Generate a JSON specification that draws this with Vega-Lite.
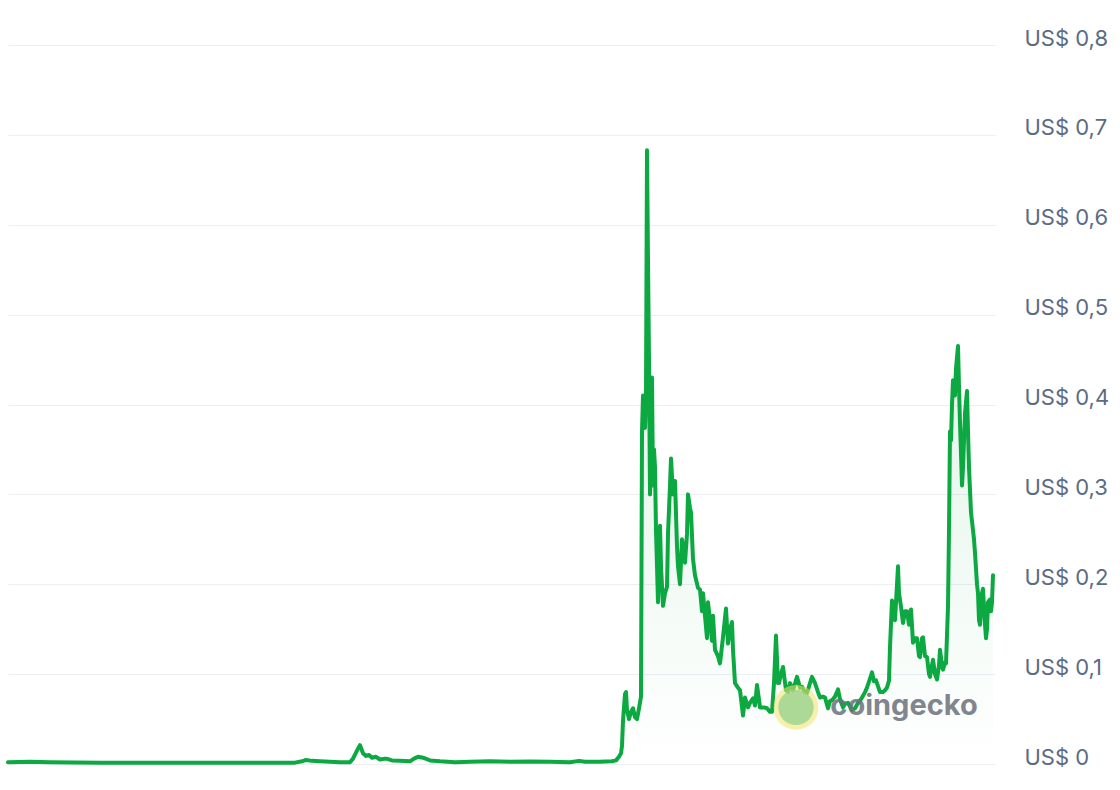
{
  "$schema": "https://vega.github.io/schema/vega-lite/v6.json",
  "width": 987,
  "height": 719,
  "autosize": {"type": "none"},
  "padding": {"left": 8, "top": 45, "right": 125, "bottom": 26},
  "background": "#ffffff",
  "config": {"view": {"stroke": null}},
  "datasets": {
    "price": [
      {"t":8,"p":0.002},{"t":30,"p":0.0025},{"t":50,"p":0.002},{"t":100,"p":0.0015},{"t":150,"p":0.0015},{"t":200,"p":0.0015},{"t":250,"p":0.0015},{"t":295,"p":0.0015},{"t":302,"p":0.003},{"t":306,"p":0.0045},{"t":312,"p":0.0035},{"t":320,"p":0.003},{"t":330,"p":0.0025},{"t":340,"p":0.002},{"t":350,"p":0.002},{"t":353,"p":0.006},{"t":357,"p":0.015},{"t":360,"p":0.021},{"t":363,"p":0.012},{"t":366,"p":0.009},{"t":369,"p":0.01},{"t":372,"p":0.007},{"t":376,"p":0.008},{"t":380,"p":0.005},{"t":385,"p":0.006},{"t":388,"p":0.0055},{"t":392,"p":0.004},{"t":400,"p":0.0035},{"t":410,"p":0.003},{"t":414,"p":0.006},{"t":418,"p":0.008},{"t":423,"p":0.007},{"t":430,"p":0.004},{"t":440,"p":0.003},{"t":455,"p":0.002},{"t":470,"p":0.0025},{"t":490,"p":0.003},{"t":510,"p":0.0025},{"t":530,"p":0.0028},{"t":550,"p":0.0025},{"t":570,"p":0.002},{"t":579,"p":0.0035},{"t":585,"p":0.0025},{"t":600,"p":0.0025},{"t":612,"p":0.003},{"t":616,"p":0.004},{"t":619,"p":0.008},{"t":621,"p":0.012},{"t":622,"p":0.02},{"t":623,"p":0.048},{"t":625,"p":0.078},{"t":626,"p":0.08},{"t":627,"p":0.06},{"t":629,"p":0.05},{"t":631,"p":0.058},{"t":633,"p":0.062},{"t":635,"p":0.052},{"t":637,"p":0.05},{"t":639,"p":0.062},{"t":641,"p":0.075},{"t":642,"p":0.37},{"t":643,"p":0.41},{"t":644,"p":0.38},{"t":645,"p":0.374},{"t":646,"p":0.41},{"t":647,"p":0.683},{"t":648,"p":0.56},{"t":649,"p":0.45},{"t":650,"p":0.30},{"t":651,"p":0.36},{"t":652,"p":0.43},{"t":653,"p":0.31},{"t":654,"p":0.35},{"t":655,"p":0.33},{"t":656,"p":0.26},{"t":658,"p":0.18},{"t":660,"p":0.265},{"t":661,"p":0.22},{"t":663,"p":0.176},{"t":665,"p":0.19},{"t":667,"p":0.197},{"t":668,"p":0.256},{"t":670,"p":0.31},{"t":671,"p":0.34},{"t":673,"p":0.30},{"t":675,"p":0.315},{"t":677,"p":0.242},{"t":678,"p":0.22},{"t":680,"p":0.2},{"t":682,"p":0.25},{"t":684,"p":0.235},{"t":685,"p":0.224},{"t":687,"p":0.256},{"t":688,"p":0.30},{"t":690,"p":0.285},{"t":691,"p":0.28},{"t":693,"p":0.228},{"t":695,"p":0.21},{"t":698,"p":0.196},{"t":700,"p":0.194},{"t":702,"p":0.17},{"t":703,"p":0.19},{"t":705,"p":0.165},{"t":707,"p":0.14},{"t":708,"p":0.18},{"t":710,"p":0.16},{"t":712,"p":0.137},{"t":713,"p":0.165},{"t":715,"p":0.127},{"t":718,"p":0.12},{"t":720,"p":0.112},{"t":723,"p":0.141},{"t":726,"p":0.173},{"t":728,"p":0.134},{"t":730,"p":0.15},{"t":732,"p":0.158},{"t":733,"p":0.127},{"t":735,"p":0.09},{"t":738,"p":0.085},{"t":740,"p":0.082},{"t":743,"p":0.054},{"t":745,"p":0.074},{"t":748,"p":0.063},{"t":750,"p":0.068},{"t":753,"p":0.073},{"t":755,"p":0.065},{"t":757,"p":0.088},{"t":760,"p":0.063},{"t":764,"p":0.063},{"t":767,"p":0.062},{"t":770,"p":0.058},{"t":772,"p":0.058},{"t":774,"p":0.09},{"t":776,"p":0.143},{"t":778,"p":0.09},{"t":779,"p":0.09},{"t":781,"p":0.1},{"t":783,"p":0.108},{"t":786,"p":0.082},{"t":788,"p":0.08},{"t":790,"p":0.09},{"t":793,"p":0.082},{"t":797,"p":0.097},{"t":800,"p":0.085},{"t":802,"p":0.086},{"t":805,"p":0.08},{"t":807,"p":0.079},{"t":810,"p":0.09},{"t":812,"p":0.097},{"t":815,"p":0.09},{"t":818,"p":0.08},{"t":820,"p":0.074},{"t":823,"p":0.075},{"t":825,"p":0.074},{"t":828,"p":0.062},{"t":830,"p":0.07},{"t":832,"p":0.071},{"t":835,"p":0.075},{"t":838,"p":0.083},{"t":840,"p":0.072},{"t":843,"p":0.063},{"t":845,"p":0.067},{"t":848,"p":0.068},{"t":852,"p":0.06},{"t":855,"p":0.062},{"t":858,"p":0.068},{"t":861,"p":0.072},{"t":863,"p":0.076},{"t":865,"p":0.08},{"t":867,"p":0.085},{"t":870,"p":0.095},{"t":872,"p":0.102},{"t":874,"p":0.092},{"t":876,"p":0.093},{"t":880,"p":0.08},{"t":883,"p":0.08},{"t":885,"p":0.082},{"t":887,"p":0.085},{"t":889,"p":0.093},{"t":890,"p":0.13},{"t":892,"p":0.182},{"t":894,"p":0.163},{"t":895,"p":0.16},{"t":897,"p":0.2},{"t":898,"p":0.22},{"t":899,"p":0.19},{"t":901,"p":0.175},{"t":903,"p":0.157},{"t":905,"p":0.17},{"t":907,"p":0.17},{"t":909,"p":0.155},{"t":911,"p":0.172},{"t":913,"p":0.135},{"t":915,"p":0.14},{"t":917,"p":0.14},{"t":919,"p":0.12},{"t":920,"p":0.119},{"t":922,"p":0.14},{"t":923,"p":0.141},{"t":925,"p":0.12},{"t":927,"p":0.119},{"t":929,"p":0.1},{"t":930,"p":0.097},{"t":932,"p":0.11},{"t":933,"p":0.116},{"t":935,"p":0.1},{"t":937,"p":0.094},{"t":939,"p":0.11},{"t":940,"p":0.127},{"t":942,"p":0.11},{"t":943,"p":0.105},{"t":945,"p":0.113},{"t":946,"p":0.112},{"t":948,"p":0.175},{"t":949,"p":0.26},{"t":950,"p":0.37},{"t":951,"p":0.36},{"t":952,"p":0.40},{"t":953,"p":0.427},{"t":955,"p":0.41},{"t":956,"p":0.44},{"t":958,"p":0.465},{"t":959,"p":0.42},{"t":960,"p":0.38},{"t":962,"p":0.31},{"t":963,"p":0.33},{"t":965,"p":0.39},{"t":967,"p":0.415},{"t":968,"p":0.37},{"t":969,"p":0.33},{"t":971,"p":0.28},{"t":972,"p":0.27},{"t":974,"p":0.25},{"t":975,"p":0.235},{"t":977,"p":0.2},{"t":978,"p":0.19},{"t":979,"p":0.16},{"t":980,"p":0.155},{"t":982,"p":0.19},{"t":983,"p":0.195},{"t":985,"p":0.155},{"t":986,"p":0.14},{"t":987,"p":0.15},{"t":988,"p":0.18},{"t":990,"p":0.183},{"t":991,"p":0.17},{"t":992,"p":0.18},{"t":993,"p":0.21}
    ],
    "mark": [
      {"t": 796, "p": 0.063, "label": "coingecko", "tx": 904, "tp": 0.064}
    ]
  },
  "layer": [
    {
      "data": {"name": "price"},
      "mark": {
        "type": "area",
        "color": {
          "gradient": "linear", "x1": 0, "y1": 0, "x2": 0, "y2": 1,
          "stops": [
            {"offset": 0, "color": "rgba(12,168,66,0.16)"},
            {"offset": 0.6, "color": "rgba(12,168,66,0.07)"},
            {"offset": 1, "color": "rgba(12,168,66,0.0)"}
          ]
        }
      },
      "encoding": {
        "x": {"field": "t", "type": "quantitative", "scale": {"domain": [8, 995], "nice": false, "zero": false}, "axis": null},
        "y": {
          "field": "p", "type": "quantitative",
          "scale": {"domain": [0, 0.8], "nice": false},
          "axis": {
            "orient": "right",
            "values": [0, 0.1, 0.2, 0.3, 0.4, 0.5, 0.6, 0.7, 0.8],
            "grid": true, "gridColor": "#eceef2", "gridWidth": 1,
            "domain": false, "ticks": false,
            "labelPadding": 29, "labelFontSize": 22, "labelFont": "Inter",
            "labelColor": "#5b6b84", "labelAlign": "left", "labelBaseline": "alphabetic", "labelOffset": 0,
            "labelExpr": "'US$ ' + replace(format(datum.value, '.1~f'), '.', ',')",
            "title": null
          }
        }
      }
    },
    {
      "data": {"name": "price"},
      "mark": {"type": "line", "color": "#0ca842", "strokeWidth": 4, "strokeJoin": "round", "strokeCap": "round"},
      "encoding": {
        "x": {"field": "t", "type": "quantitative"},
        "y": {"field": "p", "type": "quantitative"}
      }
    },
    {
      "data": {"name": "mark"},
      "mark": {"type": "point", "filled": true, "shape": "circle", "size": 2000, "color": "#f3e46a", "opacity": 0.55},
      "encoding": {
        "x": {"field": "t", "type": "quantitative"},
        "y": {"field": "p", "type": "quantitative"}
      }
    },
    {
      "data": {"name": "mark"},
      "mark": {"type": "point", "filled": true, "shape": "circle", "size": 1250, "color": "#93d18d", "opacity": 0.75},
      "encoding": {
        "x": {"field": "t", "type": "quantitative"},
        "y": {"field": "p", "type": "quantitative"}
      }
    },
    {
      "data": {"name": "mark"},
      "mark": {"type": "text", "font": "Inter", "fontSize": 29, "fontWeight": "bold", "color": "#6b717c", "opacity": 0.85, "align": "center", "baseline": "middle"},
      "encoding": {
        "x": {"field": "tx", "type": "quantitative"},
        "y": {"field": "tp", "type": "quantitative"},
        "text": {"field": "label"}
      }
    }
  ]
}
